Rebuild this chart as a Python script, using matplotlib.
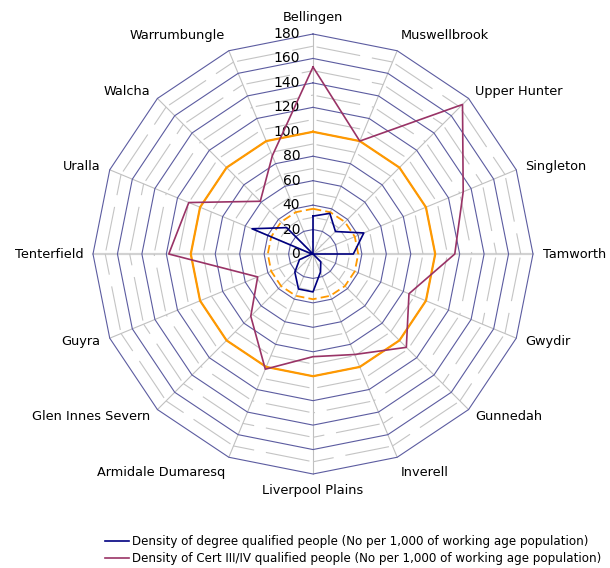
import numpy as np
import matplotlib.pyplot as plt
from matplotlib.lines import Line2D

plt.rcParams["font.family"] = ["DejaVu Sans"]
plt.rcParams["lines.scale_dashes"] = False

# LGAs, clockwise from the top of the radar
regions = [
    "Bellingen", "Muswellbrook", "Upper Hunter", "Singleton", "Tamworth",
    "Gwydir", "Gunnedah", "Inverell", "Liverpool Plains", "Armidale Dumaresq",
    "Glen Innes Severn", "Guyra", "Tenterfield", "Uralla", "Walcha",
    "Warrumbungle",
]
degree = [31, 36, 26, 45, 33, 0, 9, 16, 31, 31, 21, 12, 1, 54, 30.5, 0]
cert = [153, 100, 173, 133, 116, 85, 108, 89, 84, 102, 72, 49, 118, 110, 61, 87]
degree_avg = 37
cert_avg = 100

ticks = list(range(0, 181, 20))
minor_ticks = list(range(10, 180, 20))
rmax = 180

label_degree = "Density of degree qualified people (No per 1,000 of working age population)"
label_cert = "Density of Cert III/IV qualified people (No per 1,000 of working age population)"

n = len(regions)
theta = np.arange(n) * 2 * np.pi / n


def ring(values):
    v = np.asarray(values, dtype=float)
    v = np.append(v, v[0])
    t = np.append(theta, theta[0])
    return v * np.sin(t), v * np.cos(t)


fig = plt.figure(figsize=(6.1, 5.68), dpi=100)
ax = fig.add_axes([0, 0, 1, 1])
px = 220 / rmax  # pixels per unit
ax.set_xlim(-313 / px, (610 - 313) / px)
ax.set_ylim(-(568 - 254) / px, 254 / px)
ax.axis("off")

# spokes
for i, t in enumerate(theta):
    horiz = abs(np.cos(t)) < 1e-9
    ax.plot([0, rmax * np.sin(t)], [0, rmax * np.cos(t)],
            color="#d2d2d2" if horiz else "#c0c0c0",
            lw=1.6 if horiz else 0.8, zorder=1)

# minor rings: each edge dashed on its own
for r in minor_ticks:
    xs, ys = ring([r] * n)
    for i in range(n):
        ax.plot(xs[i:i + 2], ys[i:i + 2], color="#c4c4c4", lw=0.8,
                linestyle=(38.0, (32.0, 8.6)), zorder=1)

# major rings
for r in ticks[1:]:
    xs, ys = ring([r] * n)
    ax.plot(xs, ys, color="#5c5ca0", lw=0.8, zorder=2)

for v in ticks:
    ax.text(-10.5, v, str(v), ha="right", va="center", fontsize=10, zorder=3)

# averages
xs, ys = ring([cert_avg] * n)
ax.plot(xs, ys, color="#ff9900", lw=1.6, zorder=4)
xs, ys = ring([degree_avg] * n)
ax.plot(xs, ys, color="#ff9900", lw=1.3, linestyle=(0, (6, 3)), zorder=4)

xs, ys = ring(cert)
ax.plot(xs, ys, color="#993366", lw=1.2, zorder=5)
xs, ys = ring(degree)
ax.plot(xs, ys, color="#000080", lw=1.2, zorder=6)

# category labels
r_lab = rmax + 8
for name, t in zip(regions, theta):
    s, c = np.sin(t), np.cos(t)
    ha = "left" if s > 0.1 else ("right" if s < -0.1 else "center")
    va = "bottom" if c > 0.9 else ("top" if c < -0.9 else "center")
    ax.text(r_lab * s, r_lab * c, name, ha=ha, va=va, fontsize=9.3)

handles = [Line2D([], [], color="#000080", lw=1.2),
           Line2D([], [], color="#993366", lw=1.2)]
fig.legend(handles, [label_degree, label_cert], loc="upper left",
           bbox_to_anchor=(0.162, 0.068), frameon=False, fontsize=8.6,
           handlelength=2.0, handletextpad=0.3, labelspacing=0.3,
           borderpad=0, bbox_transform=fig.transFigure)

fig.savefig("out.png", dpi=100)
